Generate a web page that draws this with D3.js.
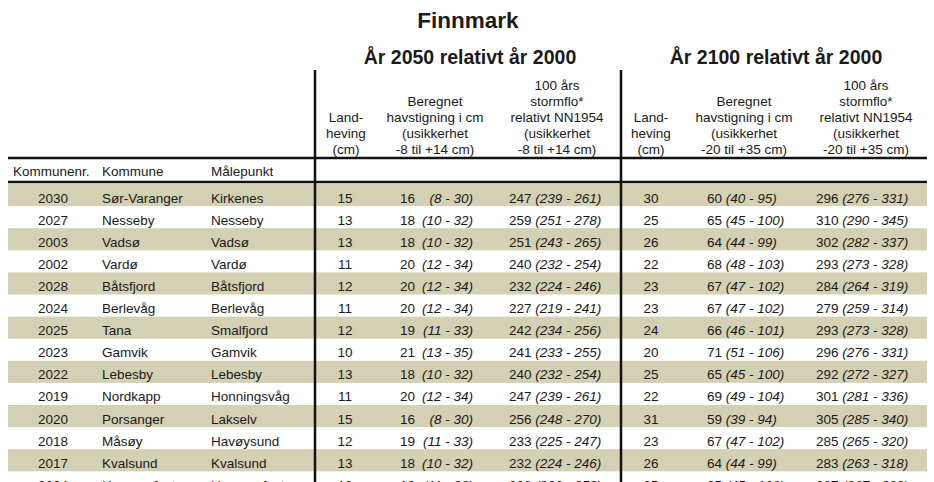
<!DOCTYPE html>
<html><head><meta charset="utf-8">
<script src="https://cdn.jsdelivr.net/npm/d3@7"></script>
<style>
html,body{margin:0;padding:0;background:#fff;overflow:hidden}
text{font-family:"Liberation Sans",Arial,sans-serif;fill:#1a1a1a}
</style></head><body>
<svg id="c" width="934" height="482"></svg>
<script>
const title = "Finnmark";
const groupTitles = ["År 2050 relativt år 2000", "År 2100 relativt år 2000"];
const headerLand = ["Land-", "heving", "(cm)"];
const headerHav2050 = ["Beregnet", "havstigning i cm", "(usikkerhet", "-8 til +14 cm)"];
const headerStorm2050 = ["100 års", "stormflo*", "relativt NN1954", "(usikkerhet", "-8 til +14 cm)"];
const headerHav2100 = ["Beregnet", "havstigning i cm", "(usikkerhet", "-20 til +35 cm)"];
const headerStorm2100 = ["100 års", "stormflo*", "relativt NN1954", "(usikkerhet", "-20 til +35 cm)"];
const idHeaders = ["Kommunenr.", "Kommune", "Målepunkt"];

const kommunenr = [2030, 2027, 2003, 2002, 2028, 2024, 2025, 2023, 2022, 2019, 2020, 2018, 2017, 2004];
const kommune = ["Sør-Varanger","Nesseby","Vadsø","Vardø","Båtsfjord","Berlevåg","Tana","Gamvik","Lebesby","Nordkapp","Porsanger","Måsøy","Kvalsund","Hammerfest"];
const malepunkt = ["Kirkenes","Nesseby","Vadsø","Vardø","Båtsfjord","Berlevåg","Smalfjord","Gamvik","Lebesby","Honningsvåg","Lakselv","Havøysund","Kvalsund","Hammerfest"];
const land2050 = [15,13,13,11,12,11,12,10,13,11,15,12,13,12];
const hav2050 = [16,18,18,20,20,20,19,21,18,20,16,19,18,19];
const hav2050lo = [8,10,10,12,12,12,11,13,10,12,8,11,10,11];
const hav2050hi = [30,32,32,34,34,34,33,35,32,34,30,33,32,33];
const storm2050 = [247,259,251,240,232,227,242,241,240,247,256,233,232,238];
const storm2050lo = [239,251,243,232,224,219,234,233,232,239,248,225,224,230];
const storm2050hi = [261,278,265,254,246,241,256,255,254,261,270,247,246,252];
const land2100 = [30,25,26,22,23,23,24,20,25,22,31,23,26,25];
const hav2100 = [60,65,64,68,67,67,66,71,65,69,59,67,64,65];
const hav2100lo = [40,45,44,48,47,47,46,51,45,49,39,47,44,45];
const hav2100hi = [95,100,99,103,102,102,101,106,100,104,94,102,99,100];
const storm2100 = [296,310,302,293,284,279,293,296,292,301,305,285,283,287];
const storm2100lo = [276,290,282,273,264,259,273,276,272,281,285,265,263,267];
const storm2100hi = [331,345,337,328,319,314,328,331,327,336,340,320,318,322];

const rows = kommunenr.map((k,i)=>({i, k, kom:kommune[i], mp:malepunkt[i],
  l1:land2050[i], h1:hav2050[i], h1lo:hav2050lo[i], h1hi:hav2050hi[i],
  s1:storm2050[i], s1lo:storm2050lo[i], s1hi:storm2050hi[i],
  l2:land2100[i], h2:hav2100[i], h2lo:hav2100lo[i], h2hi:hav2100hi[i],
  s2:storm2100[i], s2lo:storm2100lo[i], s2hi:storm2100hi[i]}));

const svg = d3.select("#c");
const FS = 13.5;
const step = 22.1;
const y = d3.scaleBand().domain(d3.range(rows.length)).range([184, 184 + step*rows.length]).padding(0);
const x0 = 8, x1 = 927, vA = 315, vB = 621;

// shading
svg.append("g").selectAll("rect").data(rows.filter(d=>d.i%2===0)).join("rect")
  .attr("x", x0).attr("width", x1-x0).attr("y", d=>y(d.i)).attr("height", y.bandwidth())
  .attr("fill", "#d4d0b4");

// title
svg.append("text").attr("x", 468).attr("y", 28).attr("text-anchor","middle")
  .attr("font-size", 22.5).attr("font-weight","bold").text(title);
svg.selectAll("text.gt").data(groupTitles).join("text").attr("class","gt")
  .attr("x",(d,i)=>[470,776][i]).attr("y",64).attr("text-anchor","middle")
  .attr("font-size",19.5).attr("font-weight","bold").text(d=>d);

// multi-line headers (bottom aligned)
function header(lines, cx){
  const n = lines.length;
  svg.append("g").selectAll("text").data(lines).join("text")
    .attr("x", cx).attr("y",(d,i)=>154 - (n-1-i)*16).attr("text-anchor","middle")
    .attr("font-size", FS).text(d=>d);
}
header(headerLand, 346);
header(headerHav2050, 435);
header(headerStorm2050, 557);
header(headerLand, 651);
header(headerHav2100, 744);
header(headerStorm2100, 866);

svg.append("text").attr("x",13).attr("y",176).attr("font-size",FS).text(idHeaders[0]);
svg.append("text").attr("x",102).attr("y",176).attr("font-size",FS).text(idHeaders[1]);
svg.append("text").attr("x",211).attr("y",176).attr("font-size",FS).text(idHeaders[2]);

// rows
const g = svg.append("g").selectAll("g").data(rows).join("g")
  .attr("transform", d=>`translate(0,${y(d.i)+18.5})`);
g.append("text").attr("x",53).attr("text-anchor","middle").attr("font-size",FS).text(d=>d.k);
g.append("text").attr("x",102).attr("font-size",FS).text(d=>d.kom);
g.append("text").attr("x",211).attr("font-size",FS).text(d=>d.mp);
g.append("text").attr("x",345).attr("text-anchor","middle").attr("font-size",FS).text(d=>d.l1);
g.append("text").attr("x",400).attr("font-size",FS).text(d=>d.h1);
g.append("text").attr("x",473).attr("text-anchor","end").attr("font-size",FS).attr("font-style","italic")
  .text(d=>`(${d.h1lo} - ${d.h1hi})`);
function valRange(x, v, lo, hi){
  const t = g.append("text").attr("x",x).attr("font-size",FS);
  t.append("tspan").text(d=>v(d)+" ");
  t.append("tspan").attr("font-style","italic").text(d=>`(${lo(d)} - ${hi(d)})`);
}
valRange(509, d=>d.s1, d=>d.s1lo, d=>d.s1hi);
g.append("text").attr("x",651).attr("text-anchor","middle").attr("font-size",FS).text(d=>d.l2);
valRange(707, d=>d.h2, d=>d.h2lo, d=>d.h2hi);
valRange(816, d=>d.s2, d=>d.s2lo, d=>d.s2hi);

// rules
svg.append("line").attr("x1",x0).attr("x2",x1).attr("y1",158).attr("y2",158).attr("stroke","#111").attr("stroke-width",2.5);
svg.append("line").attr("x1",x0).attr("x2",x1).attr("y1",182).attr("y2",182).attr("stroke","#111").attr("stroke-width",2.5);
[vA,vB].forEach(v=>svg.append("line").attr("x1",v).attr("x2",v).attr("y1",70).attr("y2",482)
  .attr("stroke","#111").attr("stroke-width",2.5));
</script></body></html>
